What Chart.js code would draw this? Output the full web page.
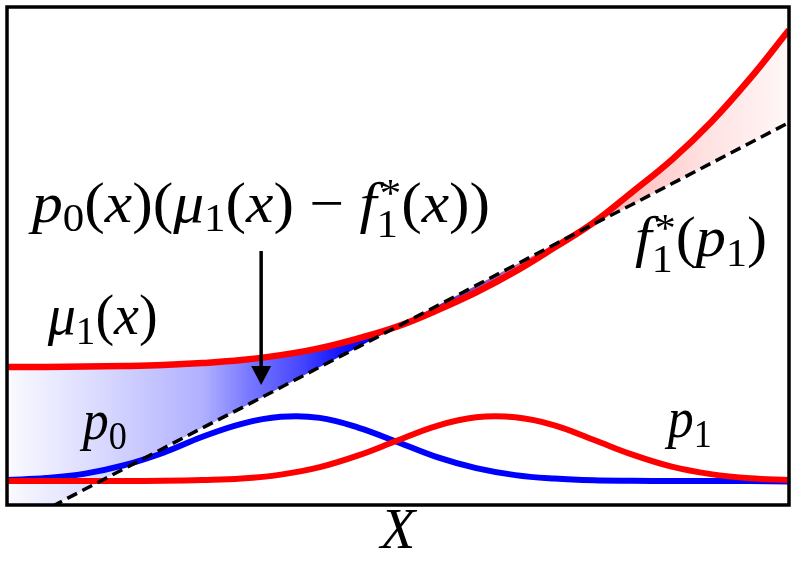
<!DOCTYPE html>
<html>
<head>
<meta charset="utf-8">
<title>p0(x)(mu1(x) - f1*(x))</title>
<script src="https://cdn.jsdelivr.net/npm/chart.js@4"></script>
<style>
  html, body { margin: 0; padding: 0; background: #fff; }
  canvas { display: block; }
</style>
</head>
<body>
<canvas id="chart" width="797" height="564"></canvas>
<script>
// x positions (arbitrary units 0..100) and curve values
const xs     = [0, 5, 10, 15, 20, 25, 30, 35, 40, 45, 50, 55, 60, 65, 70, 75, 80, 85, 90, 95, 100];
const mu1    = [27.7, 27.7, 27.8, 27.9, 28.1, 28.5, 29.1, 30.1, 31.5, 33.5, 35.9, 39.1, 42.7, 46.9, 51.7, 56.7, 62.9, 69.3, 76.8, 85.6, 95.4];
const f1star = [-5.0, -0.9, 3.2, 7.3, 11.4, 15.5, 19.5, 23.6, 27.7, 31.8, 35.9, 40.0, 44.1, 48.2, 52.3, 56.4, 60.4, 64.5, 68.6, 72.7, 76.8];
const p0     = [5.0, 5.4, 6.3, 8.0, 10.5, 13.7, 16.3, 17.7, 17.5, 15.5, 12.6, 9.6, 7.4, 6.0, 5.3, 4.95, 4.85, 4.8, 4.8, 4.8, 4.7];
const p1     = [4.8, 4.8, 4.8, 4.8, 4.85, 5.0, 5.3, 6.1, 7.6, 10.0, 13.0, 15.9, 17.6, 17.6, 16.0, 13.1, 10.1, 7.7, 6.2, 5.35, 5.0];

// math labels: [text, kind, superscript]
const bigLabel = [['p', 'i'], ['0', 'sub'], ['(', 'r'], ['x', 'i'], [')(', 'r'], ['μ', 'i'], ['1', 'sub'],
                  ['(', 'r'], ['x', 'i'], [')', 'r'], [' − ', 'r'], ['f', 'i'], ['1', 'sub', '*'],
                  ['(', 'r'], ['x', 'i'], ['))', 'r']];
const muLabel  = [['μ', 'i'], ['1', 'sub'], ['(', 'r'], ['x', 'i'], [')', 'r']];
const p0Label  = [['p', 'i'], ['0', 'sub']];
const p1Label  = [['p', 'i'], ['1', 'sub']];
const fLabel   = [['f', 'i'], ['1', 'sub', '*'], ['(', 'r'], ['p', 'i'], ['1', 'sub'], [')', 'r']];

const notes = [
    { parts: bigLabel, x: 3.2,  y: 56.9, w: 458 },
    { parts: muLabel,  x: 5.2,  y: 34.3, w: 110 },
    { parts: p0Label,  x: 9.7,  y: 13.2, w: 44 },
    { parts: p1Label,  x: 84.5, y: 13.6, w: 44 },
    { parts: fLabel,   x: 80.3, y: 49.9, w: 132 }
];
const arrowFrom = { x: 32.5, y: 51.0 };
const arrowTo   = { x: 32.5, y: 24.1 };

const FONT = '"Liberation Serif"';
const SIZE = 56;

function toPoints(ys) {
    return xs.map((x, i) => ({ x: x, y: ys[i] }));
}

function shade(context) {
    const chart = context.chart;
    const area = chart.chartArea;
    if (!area) return 'rgba(0,0,255,0.3)';
    const g = chart.ctx.createLinearGradient(area.left, 0, area.right, 0);
    g.addColorStop(0.0,   'rgba(0,0,255,0.02)');
    g.addColorStop(0.12,  'rgba(0,0,255,0.15)');
    g.addColorStop(0.25,  'rgba(0,0,255,0.31)');
    g.addColorStop(0.31,  'rgba(0,0,255,0.53)');
    g.addColorStop(0.375, 'rgba(0,0,255,0.72)');
    g.addColorStop(0.426, 'rgba(0,0,255,0.92)');
    g.addColorStop(0.47,  'rgba(0,0,255,1)');
    g.addColorStop(0.5,   'rgba(0,0,255,1)');
    g.addColorStop(0.758, 'rgba(255,0,0,0.3)');
    g.addColorStop(0.886, 'rgba(255,0,0,0.12)');
    g.addColorStop(1.0,   'rgba(255,0,0,0.03)');
    return g;
}

// lays out a math string, draws it if draw is true, returns its width
function runMath(ctx, parts, x, y, size, draw) {
    let cx = x;
    parts.forEach(([t, kind, sup]) => {
        if (kind === 'sub') {
            const small = Math.round(size * 0.7);
            ctx.font = small + 'px ' + FONT;
            let w = ctx.measureText(t).width;
            const drop = sup ? size * 0.28 : size * 0.17;
            if (draw) ctx.fillText(t, cx, y + drop);
            if (sup) {
                const ws = ctx.measureText(sup).width;
                if (draw) ctx.fillText(sup, cx + size * 0.05, y - size * 0.28);
                w = Math.max(w, ws + size * 0.05);
            }
            cx += w;
        } else {
            ctx.font = (kind === 'i' ? 'italic ' : '') + size + 'px ' + FONT;
            if (draw) ctx.fillText(t, cx, y);
            cx += ctx.measureText(t).width;
        }
    });
    return cx - x;
}

const decorations = {
    id: 'decorations',
    afterDatasetsDraw(chart) {
        const ctx = chart.ctx;
        const a = chart.chartArea;
        const sx = chart.scales.x, sy = chart.scales.y;
        ctx.save();

        // frame
        ctx.strokeStyle = '#000';
        ctx.lineWidth = 3.5;
        ctx.strokeRect(a.left, a.top, a.right - a.left, a.bottom - a.top);

        // arrow
        const ax = sx.getPixelForValue(arrowFrom.x);
        const ay0 = sy.getPixelForValue(arrowFrom.y);
        const ay1 = sy.getPixelForValue(arrowTo.y);
        ctx.lineWidth = 3.5;
        ctx.beginPath();
        ctx.moveTo(ax, ay0);
        ctx.lineTo(ax, ay1 - 16);
        ctx.stroke();
        ctx.fillStyle = '#000';
        ctx.beginPath();
        ctx.moveTo(ax - 10, ay1 - 19);
        ctx.lineTo(ax + 10, ay1 - 19);
        ctx.lineTo(ax, ay1);
        ctx.closePath();
        ctx.fill();

        // labels
        ctx.textBaseline = 'alphabetic';
        ctx.textAlign = 'left';
        notes.forEach(n => {
            const px = sx.getPixelForValue(n.x);
            const py = sy.getPixelForValue(n.y);
            const natural = runMath(ctx, n.parts, 0, 0, SIZE, false);
            const k = Math.min(1.25, Math.max(0.85, n.w / natural));
            ctx.save();
            ctx.translate(px, py);
            ctx.scale(k, 1);
            runMath(ctx, n.parts, 0, 0, SIZE, true);
            ctx.restore();
        });
        ctx.restore();
    }
};

new Chart(document.getElementById('chart'), {
    type: 'line',
    data: {
        datasets: [
            {
                label: 'mu1',
                data: toPoints(mu1),
                borderColor: '#ff0000',
                borderWidth: 6.5,
                backgroundColor: shade,
                fill: { target: 1 },
                tension: 0.4,
                order: 1
            },
            {
                label: 'f1*',
                data: toPoints(f1star),
                borderColor: '#000000',
                borderWidth: 3.5,
                borderDash: [11, 6],
                fill: false,
                tension: 0,
                order: 0
            },
            {
                label: 'p0',
                data: toPoints(p0),
                borderColor: '#0000ff',
                borderWidth: 6,
                fill: false,
                tension: 0.4,
                order: 3
            },
            {
                label: 'p1',
                data: toPoints(p1),
                borderColor: '#ff0000',
                borderWidth: 6,
                fill: false,
                tension: 0.4,
                order: 2
            }
        ]
    },
    options: {
        responsive: false,
        animation: false,
        events: [],
        layout: { padding: { left: 7, right: 8, top: 7, bottom: 0 } },
        elements: { point: { radius: 0 } },
        plugins: {
            legend: { display: false },
            tooltip: { enabled: false },
            filler: { drawTime: 'beforeDatasetsDraw' }
        },
        scales: {
            x: {
                type: 'linear',
                min: 0,
                max: 100,
                grid: { display: false },
                border: { display: false },
                ticks: { display: false },
                title: {
                    display: true,
                    text: 'X',
                    color: '#000',
                    font: { family: FONT, style: 'italic', size: 57, lineHeight: 1 },
                    padding: { top: -8, bottom: 2 }
                }
            },
            y: {
                display: false,
                min: 0,
                max: 100
            }
        }
    },
    plugins: [decorations]
});
</script>
</body>
</html>
